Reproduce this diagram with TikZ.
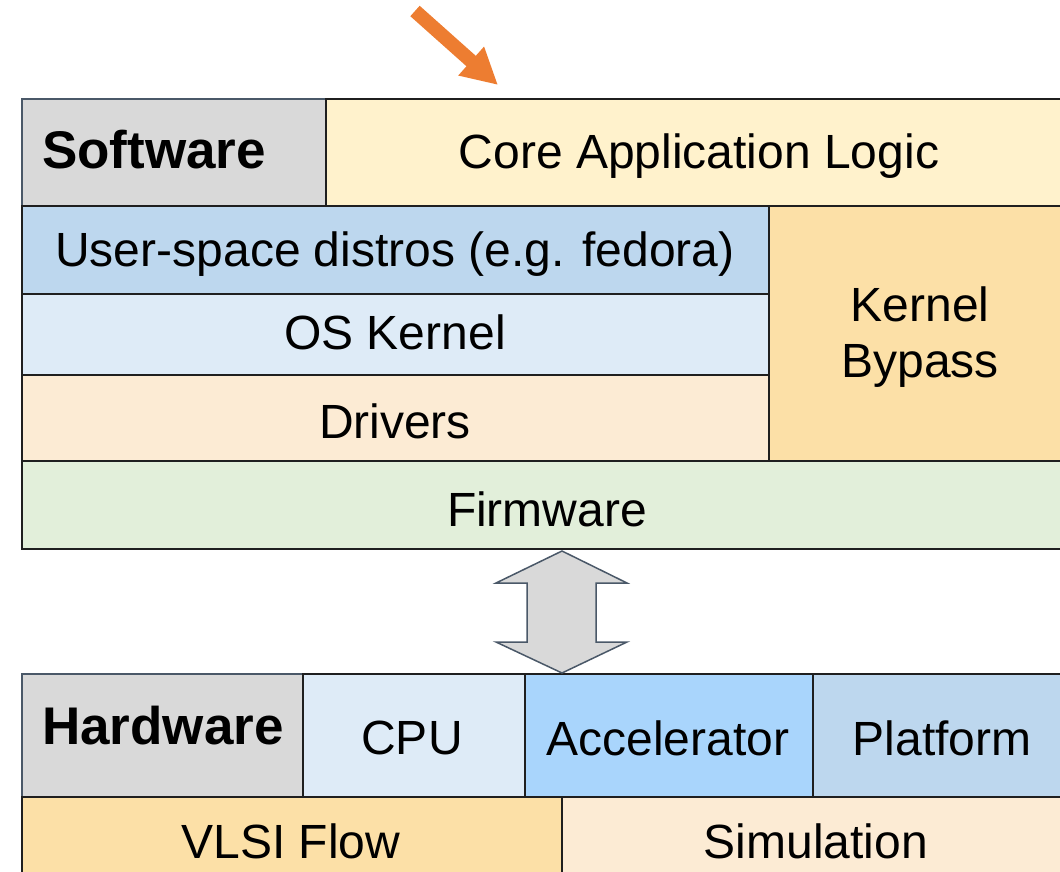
\documentclass[tikz,border=0pt]{standalone}
\usepackage{fontspec}
\setmainfont{Liberation Sans}
\usetikzlibrary{arrows.meta}
\definecolor{swgray}{HTML}{D9D9D9}
\definecolor{coreY}{HTML}{FFF2CC}
\definecolor{userB}{HTML}{BDD7EE}
\definecolor{osB}{HTML}{DEEBF7}
\definecolor{drvO}{HTML}{FCEBD4}
\definecolor{kbO}{HTML}{FCE0A7}
\definecolor{fwG}{HTML}{E2EFDA}
\definecolor{accB}{HTML}{A9D5FC}
\definecolor{arrowOr}{HTML}{ED7D31}
\definecolor{edgeC}{HTML}{1F1F1F}
\definecolor{slateC}{HTML}{4A5868}
\tikzset{
  blk/.style={draw=edgeC, line width=1.8pt, anchor=north west, inner sep=0pt,
    font=\fontsize{48}{55}\selectfont, align=center},
  txt/.style={inner sep=0pt, font=\fontsize{48}{56}\selectfont, align=center},
  lbl/.style={anchor=west, inner sep=0pt, font=\fontsize{53}{60}\selectfont\bfseries},
}
\begin{document}
\begin{tikzpicture}[x=1pt,y=-1pt]
\useasboundingbox (0,0) rectangle (1060,872);
% software stack
\node[blk, fill=swgray, draw=slateC, minimum width=304pt, minimum height=107pt] (sw) at (21,98) {};
\node[lbl] (swl) at ([xshift=21pt,yshift=3pt]sw.west) {Software};
\node[blk, fill=coreY, minimum width=745pt, minimum height=107pt] (core) at (325,98) {};
\node[txt] (corel) at (699,156) {Core Application Logic};
\node[blk, fill=userB, minimum width=747pt, minimum height=88pt] (user) at (21,205) {};
\node[txt] (userl) at (395,254) {User-space distros (e.g. fedora)};
\node[blk, fill=osB, minimum width=747pt, minimum height=81pt] (os) at (21,293) {};
\node[txt] (osl) at (395,332) {OS Kernel};
\node[blk, fill=drvO, minimum width=747pt, minimum height=86pt] (drv) at (21,374) {};
\node[txt] (drvl) at (395,421) {Drivers};
\node[blk, fill=kbO, minimum width=300pt, minimum height=255pt] (kb) at (768,205) {};
\node[txt] (kbl) at (920,337) {Kernel\\Bypass};
\node[blk, fill=fwG, minimum width=1049pt, minimum height=88pt] (fw) at (21,460) {};
\node[txt] (fwl) at (547,509) {Firmware};
% hardware stack
\node[blk, fill=swgray, draw=slateC, minimum width=281pt, minimum height=123pt] (hw) at (21,673) {};
\node[lbl] (hwl) at ([xshift=21pt,yshift=10pt]hw.west) {Hardware};
\node[blk, fill=osB, minimum width=222pt, minimum height=123pt] (cpu) at (302,673) {};
\node[txt] (cpul) at (412,738) {CPU};
\node[blk, fill=accB, minimum width=288pt, minimum height=123pt] (acc) at (524,673) {};
\node[txt] (accl) at (668,738) {Accelerator};
\node[blk, fill=userB, minimum width=258pt, minimum height=123pt] (plat) at (812,673) {};
\node[txt] (platl) at (942,738) {Platform};
\node[blk, fill=kbO, minimum width=540pt, minimum height=90pt] (vlsi) at (21,796) {};
\node[txt] (vlsil) at (291,841) {VLSI Flow};
\node[blk, fill=drvO, minimum width=509pt, minimum height=90pt] (sim) at (561,796) {};
\node[txt] (siml) at (816,841) {Simulation};
% double arrow between stacks
\draw[fill=swgray, draw=slateC, line width=1.5pt, line join=miter]
  (562,551) -- (627,583) -- (596,583) -- (596,642) -- (627,642) -- (562,673)
  -- (496,642) -- (527,642) -- (527,583) -- (496,583) -- cycle;
% orange pointer
\coordinate (ps) at (415,11);
\coordinate (pe) at (498,85);
\draw[arrowOr, line width=14pt, -{Triangle[length=36pt,width=36pt]}] (ps) -- (pe);
\end{tikzpicture}
\end{document}
